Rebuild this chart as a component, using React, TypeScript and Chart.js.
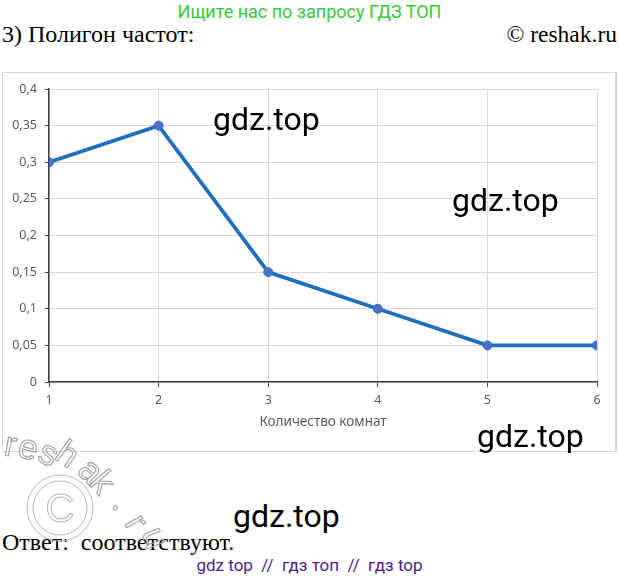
import React, { useEffect, useRef } from "react";
import { Chart, registerables } from "chart.js";

Chart.register(...registerables);

const rooms = [1, 2, 3, 4, 5, 6];
const frequencies = [0.3, 0.35, 0.15, 0.1, 0.05, 0.05];
const yMin = 0;
const yMax = 0.4;
const yStep = 0.05;
const xTitle = "Количество комнат";

const headerAd = "Ищите нас по запросу ГДЗ ТОП";
const taskTitle = "3) Полигон частот:";
const copyright = "© reshak.ru";
const answer = "Ответ:  соответствуют.";
const footer = "gdz top  //  гдз топ  //  гдз top";
const watermark = "gdz.top";
const watermarkSpots = [
  [213, 103],
  [452, 184],
  [477, 420],
  [233, 500],
];
const reshakLetters = [
  ["r", 3, 455, 10],
  ["e", 16, 456, 15],
  ["s", 36, 460, 25],
  ["h", 53, 458, 35],
  ["a", 76, 472, 45],
  ["k", 88, 483, 50],
  [".", 111, 505, 55],
  ["r", 124, 523, 60],
  ["u", 141, 533, 68],
];

function ChartCanvas() {
  const ref = useRef<HTMLCanvasElement | null>(null);
  useEffect(() => {
    if (!ref.current) return;
    const tickFont = { family: "'Noto Sans', 'Open Sans', sans-serif", size: 12.5 };
    const titleFont = { family: "'Noto Sans', 'Open Sans', sans-serif", size: 13.5 };
    const chart = new Chart(ref.current, {
      type: "line",
      data: {
        datasets: [
          {
            data: rooms.map((r, i) => ({ x: r, y: frequencies[i] })),
            borderColor: "#1f6fbe",
            borderWidth: 3.8,
            pointBackgroundColor: "#4472c4",
            pointBorderColor: "#3b6cc0",
            pointBorderWidth: 1,
            pointRadius: 4.5,
            tension: 0,
            fill: false,
          },
        ],
      },
      options: {
        responsive: false,
        animation: false,
        layout: { padding: { top: 17, right: 20, bottom: 0, left: 0 } },
        plugins: {
          legend: { display: false },
          tooltip: { enabled: false },
        },
        scales: {
          x: {
            type: "linear",
            min: 1,
            max: 6,
            ticks: {
              stepSize: 1,
              color: "#595959",
              font: tickFont,
              padding: 6,
              maxRotation: 0,
            },
            grid: {
              color: "#d9d9d9",
              tickColor: "#404040",
              tickLength: 5,
            },
            border: { color: "#404040", width: 1.5 },
            title: {
              display: true,
              text: xTitle,
              color: "#595959",
              font: titleFont,
              padding: { top: 4, bottom: 22 },
            },
            afterFit: (s: any) => {
              s.height = 70;
            },
          },
          y: {
            min: yMin,
            max: yMax,
            ticks: {
              stepSize: yStep,
              color: "#595959",
              font: tickFont,
              padding: 8,
              callback: (v: any) =>
                String(Math.round(Number(v) * 100) / 100).replace(".", ","),
            },
            grid: {
              color: "#d9d9d9",
              tickColor: "#404040",
              tickLength: 4,
            },
            border: { color: "#404040", width: 1.5 },
            afterFit: (s: any) => {
              s.width = 47;
            },
          },
        },
      },
    });
    return () => chart.destroy();
  }, []);
  return <canvas ref={ref} width={615} height={380} style={{ display: "block" }} />;
}

export default function App() {
  const serif = "'Liberation Serif', 'Times New Roman', serif";
  const sans = "Roboto, 'Noto Sans', sans-serif";
  return (
    <div
      style={{
        position: "absolute",
        left: 0,
        top: 0,
        width: 619,
        height: 580,
        background: "#fff",
        overflow: "hidden",
      }}
    >
      <div
        style={{
          position: "absolute",
          left: 0,
          width: 619,
          top: 1,
          textAlign: "center",
          font: `18px ${sans}`,
          lineHeight: "22px",
          color: "#33cc33",
        }}
      >
        {headerAd}
      </div>
      <div
        style={{
          position: "absolute",
          left: 2,
          top: 22,
          font: `24px ${serif}`,
          lineHeight: "24px",
          color: "#000",
          whiteSpace: "pre",
        }}
      >
        {taskTitle}
      </div>
      <div
        style={{
          position: "absolute",
          right: 2,
          top: 22,
          font: `23.5px ${serif}`,
          lineHeight: "24px",
          color: "#000",
        }}
      >
        {copyright}
      </div>
      <div
        style={{
          position: "absolute",
          left: 2,
          top: 72,
          width: 615,
          height: 380,
          boxSizing: "border-box",
          border: "1px solid #d9d9d9",
          borderRight: "2px solid #d4d4d4",
        }}
      />
      <div style={{ position: "absolute", left: 2, top: 72 }}>
        <ChartCanvas />
      </div>
      <div
        style={{
          position: "absolute",
          left: 2,
          top: 530,
          font: `24px ${serif}`,
          lineHeight: "24px",
          color: "#000",
          whiteSpace: "pre",
        }}
      >
        {answer}
      </div>
      <div
        style={{
          position: "absolute",
          left: 0,
          width: 619,
          top: 555,
          textAlign: "center",
          font: `17px ${sans}`,
          lineHeight: "20px",
          color: "#551a8b",
          whiteSpace: "pre",
        }}
      >
        {footer}
      </div>
      {watermarkSpots.map(([x, y], i) => (
        <div
          key={i}
          style={{
            position: "absolute",
            left: x,
            top: y,
            font: `32px ${sans}`,
            lineHeight: "32px",
            color: "#000",
          }}
        >
          {watermark}
        </div>
      ))}
      <svg
        width={619}
        height={580}
        style={{ position: "absolute", left: 0, top: 0, pointerEvents: "none" }}
      >
        {reshakLetters.map(([ch, x, y, rot], i) => (
          <text
            key={i}
            x={x as number}
            y={y as number}
            transform={`rotate(${rot} ${x} ${y})`}
            fontFamily="'Liberation Sans', Arial, sans-serif"
            fontSize={35}
            fill="none"
            stroke="#a0a0a0"
            strokeWidth={1.1}
          >
            {ch}
          </text>
        ))}
        <circle cx={60} cy={508} r={33} fill="none" stroke="#b4b4b4" strokeWidth={1} />
        <circle cx={60} cy={508} r={27} fill="none" stroke="#b4b4b4" strokeWidth={1} />
        <text
          x={60}
          y={522}
          textAnchor="middle"
          fontFamily="'Liberation Sans', Arial, sans-serif"
          fontSize={40}
          fill="none"
          stroke="#b4b4b4"
          strokeWidth={1}
        >
          C
        </text>
      </svg>
    </div>
  );
}
